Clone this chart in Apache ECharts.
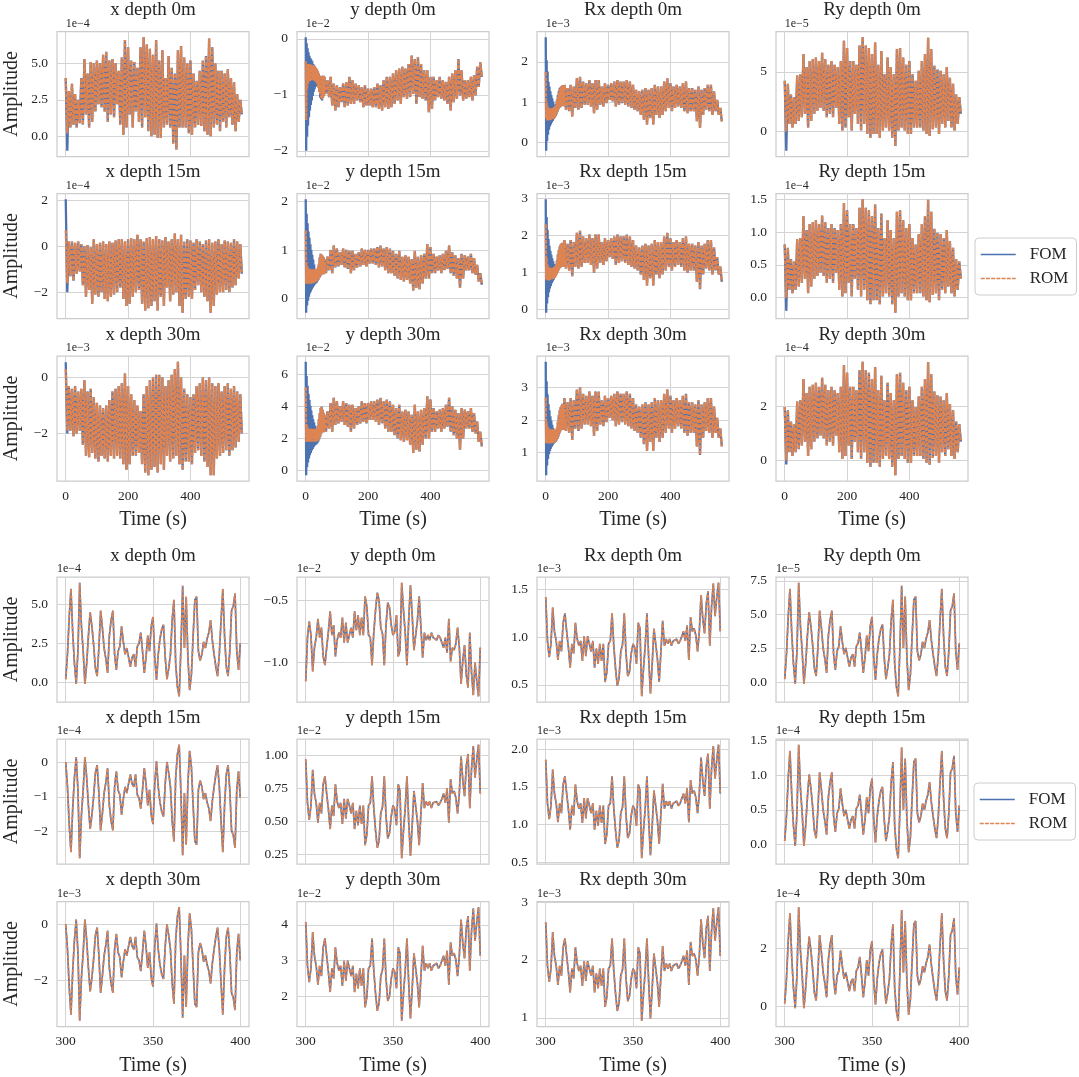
<!DOCTYPE html>
<html><head><meta charset="utf-8">
<script src="https://cdn.jsdelivr.net/npm/echarts@6.0.0/dist/echarts.min.js"></script>
<style>html,body{margin:0;padding:0;background:#fff}#c{width:1079px;height:1077px}</style>
</head><body><div id="c"></div>
<script>
// ---------- time ticks ----------
const topTimeLabels = ['0','200','400'];
const bottomTimeLabels = ['300','350','400'];
const bottomTimeStart = 300, bottomTimeStep = 1;

// ---------- TOP BLOCK (0-560 s): envelopes every 10 s (upper / lower) ----------
const tX0Up = [4.0,3.1,3.6,2.9,2.5,4.0,5.3,4.3,5.1,5.0, 5.2,5.0,5.6,5.8,5.2,5.3,5.0,4.5,5.4,6.6, 6.1,5.2,5.1,4.7,6.1,6.8,6.3,6.0,5.6,6.6, 5.2,5.9,4.0,5.5,4.7,4.3,5.9,6.2,5.4,5.0, 5.2,4.3,3.8,4.5,5.2,5.5,6.7,6.1,5.0,4.5, 4.5,4.3,4.6,4.0,3.7,2.9,2.5];
const tX0Lo = [0.2,0.6,0.8,0.6,0.9,0.8,1.5,0.6,1.0,1.7, 2.2,2.0,1.7,1.0,1.5,1.3,2.2,0.8,0.1,0.6, 1.5,0.6,1.7,1.0,0.6,1.3,0.35,0.0,0.1,-0.1, -0.1,0.6,0.8,0.6,-0.5,-0.9,0.6,0.6,0.6,0.2, 0.1,0.6,0.8,0.7,0.35,0.1,0.0,0.6,0.8,0.35, 1.0,0.6,1.3,0.8,0.35,1.0,1.5];
const tX0FomStart = [4.0,-1.0];

const tX15Up = [0.7,0.2,0.2,0.15,0.2,0.1,0.0,0.05,-0.05,0.3, 0.1,0.15,0.2,0.1,0.2,0.15,0.25,0.3,0.3,0.2, 0.3,0.35,0.3,0.5,0.3,0.2,0.35,0.4,0.3,0.45, 0.3,0.25,0.4,0.2,0.3,0.55,0.3,0.5,0.2,0.3, 0.25,0.15,0.3,0.2,0.1,0.25,0.3,0.15,0.2,0.3, 0.1,0.25,0.2,0.15,0.3,0.2,0.1];
const tX15Lo = [-1.6,-1.3,-1.5,-1.2,-1.1,-1.7,-2.2,-1.9,-2.5,-2.1, -2.2,-2.0,-2.3,-2.4,-2.2,-2.1,-2.0,-1.8,-2.3,-2.6, -2.5,-2.2,-2.0,-1.9,-2.5,-2.8,-2.7,-2.6,-2.4,-2.8, -2.2,-2.6,-1.8,-2.4,-2.1,-2.0,-2.6,-2.9,-2.3,-2.2, -2.3,-1.9,-1.7,-2.0,-2.2,-2.4,-2.9,-2.6,-2.1,-2.0, -2.0,-1.9,-2.0,-1.8,-1.7,-1.4,-1.2];
const tX15FomStart = [2.05,-2.0];

const tX30Up = [0.3,-0.3,-0.4,-0.3,-0.5,-0.4,-0.1,-0.5,-0.4,-0.7, -0.9,-1.0,-1.1,-1.0,-0.8,-0.5,-0.4,-0.3,-0.2,0.15, -0.3,-0.6,-0.8,-1.0,-1.2,-0.6,-0.3,-0.1,0.0,0.1, 0.1,0.0,-0.3,-0.1,0.1,0.3,0.57,0.0,-0.4,-0.6, -0.7,-0.6,-0.3,-0.2,0.0,-0.1,0.0,-0.2,-0.3,-0.2, -0.5,-0.3,-0.2,-0.4,-0.3,-0.5,-0.6];
const tX30Lo = [-1.9,-1.9,-2.1,-2.0,-1.9,-2.4,-2.8,-2.85,-2.7,-2.9, -3.0,-2.8,-2.9,-3.0,-2.8,-2.9,-2.8,-2.9,-3.1,-3.3, -3.1,-2.8,-2.8,-2.7,-3.1,-3.4,-3.5,-3.3,-3.2,-3.4, -3.1,-3.3,-2.8,-3.0,-2.9,-2.8,-3.1,-3.3,-3.0,-3.0, -3.1,-2.7,-2.6,-2.8,-3.0,-3.2,-3.5,-3.5,-2.9,-2.8, -2.7,-2.6,-2.8,-2.6,-2.5,-2.3,-2.0];
const tX30FomStart = [0.55,-2.0];

const tRy0Up = [4.25,4.0,3.1,2.9,4.7,4.8,6.5,5.4,5.9,6.05, 6.2,5.9,6.6,6.05,5.6,5.9,5.6,5.4,5.9,7.6, 7.0,5.9,5.9,5.6,7.2,7.9,7.2,7.0,6.5,7.45, 5.6,6.75,4.8,6.2,5.4,4.8,6.9,7.0,6.2,5.6, 5.9,4.8,4.25,5.1,5.9,6.5,7.85,6.9,5.5,5.2, 5.1,4.8,5.4,4.5,4.0,3.1,2.9];
const tRy0Lo = [0.0,0.65,0.35,0.65,0.9,1.2,1.5,0.35,0.9,1.5, 1.75,2.0,1.75,1.2,1.5,1.2,2.0,0.65,0.1,0.35, 1.2,0.1,1.5,0.65,0.1,0.65,-0.2,-0.5,-0.2,-0.2, -0.5,0.1,0.35,0.1,-0.5,-1.2,0.1,0.35,0.1,-0.2, -0.2,0.35,0.35,0.35,0.1,-0.2,-0.35,0.2,0.35,-0.2, 0.65,0.35,0.9,0.35,0.1,0.65,1.5];
const tRy0FomStart = [4.25,-1.6];

const tRy15Up = [0.81,0.76,0.59,0.55,0.89,0.91,1.24,1.03,1.12,1.15, 1.18,1.12,1.25,1.15,1.06,1.12,1.06,1.03,1.12,1.44, 1.33,1.12,1.12,1.06,1.37,1.5,1.37,1.33,1.24,1.42, 1.06,1.28,0.91,1.18,1.03,0.91,1.31,1.33,1.18,1.06, 1.12,0.91,0.81,0.97,1.12,1.24,1.49,1.31,1.05,0.99, 0.97,0.91,1.03,0.86,0.76,0.59,0.55];
const tRy15Lo = [0.0,0.12,0.07,0.12,0.17,0.23,0.29,0.07,0.17,0.29, 0.33,0.38,0.33,0.23,0.29,0.23,0.38,0.12,0.02,0.07, 0.23,0.02,0.29,0.12,0.02,0.12,-0.04,-0.1,-0.04,-0.04, -0.1,0.02,0.07,0.02,-0.1,-0.23,0.02,0.07,0.02,-0.04, -0.04,0.07,0.07,0.07,0.02,-0.04,-0.07,0.04,0.07,-0.04, 0.12,0.07,0.17,0.07,0.02,0.12,0.29];
const tRy15FomStart = [0.81,-0.2];

const tRy30Up = [1.96,1.84,1.43,1.33,2.16,2.21,2.99,2.48,2.71,2.78, 2.85,2.71,3.04,2.78,2.58,2.71,2.58,2.48,2.71,3.5, 3.22,2.71,2.71,2.58,3.31,3.63,3.31,3.22,2.99,3.43, 2.58,3.11,2.21,2.85,2.48,2.21,3.17,3.22,2.85,2.58, 2.71,2.21,1.96,2.35,2.71,2.99,3.61,3.17,2.53,2.39, 2.35,2.21,2.48,2.07,1.84,1.43,1.33];
const tRy30Lo = [0.0,0.3,0.16,0.3,0.41,0.55,0.69,0.16,0.41,0.69, 0.81,0.92,0.81,0.55,0.69,0.55,0.92,0.3,0.05,0.16, 0.55,0.05,0.69,0.3,0.05,0.3,-0.09,-0.23,-0.09,-0.09, -0.23,0.05,0.16,0.05,-0.23,-0.55,0.05,0.16,0.05,-0.09, -0.09,0.16,0.16,0.16,0.05,-0.09,-0.16,0.09,0.16,-0.09, 0.3,0.16,0.41,0.16,0.05,0.3,0.69];
const tRy30FomStart = [1.96,-0.15];

// y / Rx panels: transient heads (0-57 s every 3 s) + main envelopes (60-560 s every 10 s)
const tY0FomHeadUp = [0.03,-0.08,-0.17,-0.24,-0.30,-0.34,-0.37,-0.40,-0.45,-0.47,-0.50,-0.52,-0.55,-0.58,-0.62,-0.66,-0.68,-0.68,-0.66,-0.66];
const tY0FomHeadLo = [-2.00,-1.75,-1.55,-1.40,-1.28,-1.18,-1.10,-1.02,-0.95,-0.90,-0.86,-0.84,-0.80,-0.82,-0.95,-1.05,-1.08,-1.10,-1.05,-1.02];
const tY0RomHeadUp = [-0.40,-0.45,-0.45,-0.45,-0.45,-0.46,-0.46,-0.47,-0.47,-0.48,-0.50,-0.52,-0.55,-0.58,-0.62,-0.66,-0.68,-0.68,-0.66,-0.66];
const tY0RomHeadLo = [-1.45,-0.90,-0.80,-0.76,-0.75,-0.74,-0.74,-0.74,-0.74,-0.75,-0.76,-0.78,-0.82,-0.88,-0.95,-1.00,-1.05,-1.08,-1.05,-1.02];
const tY0Up = [-0.68,-0.74,-0.68,-0.8,-0.83,-0.86,-0.8,-0.77,-0.68,-0.74, -0.8,-0.83,-0.86,-0.83,-0.89,-0.89,-0.86,-0.8,-0.83,-0.74, -0.68,-0.68,-0.62,-0.56,-0.53,-0.5,-0.53,-0.45,-0.3,-0.36, -0.33,-0.45,-0.56,-0.56,-0.68,-0.68,-0.74,-0.68,-0.74,-0.77, -0.68,-0.62,-0.56,-0.36,-0.56,-0.74,-0.74,-0.68,-0.65,-0.5, -0.42];
const tY0Lo = [-0.98,-1.04,-1.19,-1.28,-1.22,-1.13,-1.22,-1.19,-1.16,-1.16, -1.1,-1.13,-1.22,-1.19,-1.19,-1.22,-1.22,-1.25,-1.28,-1.22, -1.25,-1.22,-1.16,-1.1,-1.16,-1.04,-1.07,-1.04,-0.98,-1.16, -1.04,-1.07,-1.1,-1.31,-1.25,-1.1,-1.04,-1.07,-1.1,-1.16, -1.28,-1.13,-1.07,-1.01,-1.1,-1.07,-1.04,-1.1,-1.01,-0.86, -0.68];

const tY15FomHeadUp = [2.05,1.75,1.55,1.38,1.25,1.12,1.0,0.9,0.8,0.7,0.6,0.52,0.48,0.55,0.7,0.85,0.92,0.9,0.88,0.85];
const tY15FomHeadLo = [-0.3,-0.15,-0.05,0.03,0.1,0.14,0.18,0.22,0.25,0.28,0.3,0.32,0.35,0.38,0.42,0.45,0.48,0.5,0.5,0.5];
const tY15RomHeadUp = [1.4,0.75,0.65,0.62,0.6,0.6,0.6,0.6,0.6,0.6,0.6,0.6,0.62,0.66,0.72,0.85,0.92,0.9,0.88,0.85];
const tY15RomHeadLo = [0.3,0.3,0.3,0.3,0.3,0.3,0.3,0.31,0.32,0.33,0.34,0.35,0.37,0.4,0.42,0.45,0.48,0.5,0.5,0.5];
const tY15Up = [0.81,0.86,1.0,1.09,1.03,0.95,1.03,1.0,0.98,0.98, 0.92,0.95,1.03,1.0,1.0,1.03,1.03,1.06,1.09,1.03, 1.06,1.03,0.98,0.92,0.98,0.86,0.89,0.86,0.81,0.98, 0.86,0.89,0.92,1.12,1.06,0.92,0.86,0.89,0.92,0.98, 1.09,0.95,0.89,0.83,0.92,0.89,0.86,0.92,0.83,0.69, 0.52];
const tY15Lo = [0.52,0.58,0.52,0.64,0.66,0.69,0.64,0.61,0.52,0.58, 0.64,0.66,0.69,0.66,0.72,0.72,0.69,0.64,0.66,0.58, 0.52,0.52,0.47,0.41,0.38,0.35,0.38,0.31,0.16,0.22, 0.19,0.31,0.41,0.41,0.52,0.52,0.58,0.52,0.58,0.61, 0.52,0.47,0.41,0.22,0.41,0.58,0.58,0.52,0.49,0.35, 0.28];

const tY30FomHeadUp = [6.8,5.9,5.3,4.8,4.4,4.05,3.75,3.45,3.2,3.0,2.8,2.65,2.6,2.8,3.2,3.6,3.9,4.0,3.8,3.6];
const tY30FomHeadLo = [-0.3,0.2,0.5,0.75,0.95,1.1,1.25,1.35,1.45,1.55,1.6,1.65,1.7,1.8,1.95,2.1,2.3,2.4,2.4,2.4];
const tY30RomHeadUp = [5.2,2.9,2.7,2.6,2.6,2.6,2.6,2.6,2.6,2.6,2.6,2.6,2.65,2.8,3.2,3.6,3.9,4.0,3.8,3.6];
const tY30RomHeadLo = [1.8,1.8,1.8,1.8,1.8,1.8,1.8,1.8,1.8,1.8,1.8,1.8,1.85,1.9,2.0,2.1,2.3,2.4,2.4,2.4];
const tY30Up = [3.48,3.69,4.22,4.54,4.32,4.01,4.32,4.22,4.11,4.11, 3.9,4.01,4.32,4.22,4.22,4.32,4.32,4.43,4.54,4.32, 4.43,4.32,4.11,3.9,4.11,3.69,3.8,3.69,3.48,4.11, 3.69,3.8,3.9,4.64,4.43,3.9,3.69,3.8,3.9,4.11, 4.54,4.01,3.8,3.59,3.9,3.8,3.69,3.9,3.59,3.06, 2.42];
const tY30Lo = [2.42,2.63,2.42,2.85,2.95,3.06,2.85,2.74,2.42,2.63, 2.85,2.95,3.06,2.95,3.16,3.16,3.06,2.85,2.95,2.63, 2.42,2.42,2.21,2.0,1.9,1.79,1.9,1.61,1.09,1.3, 1.19,1.61,2.0,2.0,2.42,2.42,2.63,2.42,2.63,2.74, 2.42,2.21,2.0,1.3,2.0,2.63,2.63,2.42,2.32,1.79, 1.51];

const tRx0FomHeadUp = [2.61,2.04,1.76,1.51,1.39,1.27,1.18,1.1,1.02,0.94,0.92,0.96,1.06,1.18,1.27,1.35,1.38,1.4,1.42,1.4];
const tRx0FomHeadLo = [-0.2,0.04,0.2,0.32,0.4,0.45,0.5,0.54,0.58,0.62,0.66,0.7,0.76,0.82,0.86,0.88,0.9,0.93,0.92,0.9];
const tRx0RomHeadUp = [1.75,1.0,0.9,0.86,0.85,0.85,0.85,0.85,0.86,0.88,0.9,0.95,1.05,1.15,1.25,1.33,1.38,1.4,1.42,1.4];
const tRx0RomHeadLo = [0.6,0.55,0.55,0.56,0.56,0.57,0.58,0.59,0.6,0.62,0.65,0.7,0.76,0.82,0.86,0.88,0.9,0.93,0.92,0.9];
const tRx0Up = [1.43,1.35,1.43,1.39,1.59,1.63,1.51,1.47,1.55,1.47, 1.55,1.55,1.39,1.47,1.43,1.47,1.51,1.55,1.51,1.51, 1.55,1.51,1.43,1.31,1.27,1.31,1.35,1.31,1.35,1.43, 1.39,1.39,1.51,1.59,1.47,1.39,1.43,1.39,1.47,1.51, 1.35,1.35,1.31,1.39,1.31,1.35,1.43,1.43,1.27,1.06, 0.86];
const tRx0Lo = [0.82,0.78,0.65,0.86,0.82,0.86,0.94,0.94,0.9,0.73, 0.82,0.94,0.9,0.98,1.06,1.02,0.9,0.94,0.98,0.94, 0.9,0.86,0.82,0.78,0.69,0.57,0.45,0.61,0.45,0.69, 0.61,0.69,0.78,0.86,0.78,0.86,0.9,0.86,0.78,0.73, 0.78,0.78,0.53,0.37,0.69,0.82,0.78,0.69,0.78,0.69, 0.53];

const tRx15FomHeadUp = [2.98,2.5,2.15,1.9,1.72,1.58,1.47,1.38,1.3,1.22,1.18,1.2,1.32,1.48,1.6,1.7,1.75,1.78,1.8,1.78];
const tRx15FomHeadLo = [-0.1,0.15,0.32,0.46,0.56,0.63,0.7,0.75,0.8,0.85,0.9,0.95,1.0,1.05,1.1,1.12,1.15,1.17,1.16,1.14];
const tRx15RomHeadUp = [2.3,1.4,1.2,1.15,1.12,1.12,1.12,1.12,1.13,1.14,1.16,1.2,1.32,1.48,1.6,1.7,1.75,1.78,1.8,1.78];
const tRx15RomHeadLo = [0.8,0.78,0.78,0.78,0.79,0.8,0.81,0.82,0.83,0.85,0.88,0.92,0.98,1.04,1.1,1.12,1.15,1.17,1.16,1.14];
const tRx15Up = [1.87,1.77,1.87,1.82,2.07,2.12,1.97,1.92,2.02,1.92, 2.02,2.02,1.82,1.92,1.87,1.92,1.97,2.02,1.97,1.97, 2.02,1.97,1.87,1.72,1.67,1.72,1.77,1.72,1.77,1.87, 1.82,1.82,1.97,2.07,1.92,1.82,1.87,1.82,1.92,1.97, 1.77,1.77,1.72,1.82,1.72,1.77,1.87,1.87,1.67,1.41, 1.15];
const tRx15Lo = [1.10,1.05,0.89,1.15,1.10,1.15,1.25,1.25,1.20,0.99, 1.10,1.25,1.20,1.30,1.41,1.36,1.20,1.25,1.30,1.25, 1.20,1.15,1.10,1.05,0.94,0.79,0.64,0.84,0.64,0.94, 0.84,0.94,1.05,1.15,1.05,1.15,1.20,1.15,1.05,0.99, 1.05,1.05,0.74,0.54,0.94,1.10,1.05,0.94,1.05,0.94, 0.74];

const tRx30FomHeadUp = [3.8,3.2,2.8,2.5,2.3,2.12,1.98,1.86,1.76,1.68,1.62,1.62,1.75,1.95,2.15,2.3,2.4,2.45,2.5,2.45];
const tRx30FomHeadLo = [0.3,0.6,0.8,0.95,1.05,1.12,1.18,1.23,1.27,1.3,1.33,1.37,1.42,1.5,1.58,1.65,1.7,1.72,1.72,1.7];
const tRx30RomHeadUp = [2.7,1.95,1.8,1.75,1.72,1.72,1.72,1.72,1.72,1.72,1.72,1.72,1.78,1.95,2.15,2.3,2.4,2.45,2.5,2.45];
const tRx30RomHeadLo = [1.3,1.28,1.28,1.28,1.28,1.28,1.28,1.29,1.3,1.31,1.33,1.37,1.42,1.5,1.58,1.65,1.7,1.72,1.72,1.7];
const tRx30Up = [2.68,2.55,2.68,2.61,2.94,3.01,2.81,2.75,2.88,2.75, 2.88,2.88,2.61,2.75,2.68,2.75,2.81,2.88,2.81,2.81, 2.88,2.81,2.68,2.48,2.42,2.48,2.55,2.48,2.55,2.68, 2.61,2.61,2.81,2.94,2.75,2.61,2.68,2.61,2.75,2.81, 2.55,2.55,2.48,2.61,2.48,2.55,2.68,2.68,2.42,2.07, 1.74];
const tRx30Lo = [1.67,1.61,1.39,1.74,1.67,1.74,1.87,1.87,1.81,1.52, 1.67,1.87,1.81,1.94,2.07,2.0,1.81,1.87,1.94,1.87, 1.81,1.74,1.67,1.61,1.46,1.26,1.06,1.33,1.06,1.46, 1.33,1.46,1.61,1.74,1.61,1.74,1.81,1.74,1.61,1.52, 1.61,1.61,1.19,0.93,1.46,1.67,1.61,1.46,1.61,1.46, 1.19];

// ---------- BOTTOM BLOCK (300-400 s, every 1 s) ----------
const bX0 = [0.2,1.8,4.2,6.0,3.2,1.2,-0.1,2.0,6.4,3.6, 2.0,-0.1,1.2,3.0,4.5,3.6,2.4,0.9,0.4,2.2, 4.6,3.5,2.2,1.5,0.6,3.0,4.0,4.6,1.8,0.8, 2.0,2.3,3.6,2.6,1.8,2.2,1.6,1.0,1.6,1.8, 1.0,2.3,2.5,3.2,2.0,0.6,1.6,3.0,2.0,3.6, 4.2,1.6,0.15,1.8,2.8,3.4,3.7,1.6,0.2,0.9, 1.8,4.0,5.3,1.2,-0.3,-0.9,2.2,6.2,2.2,5.5, 1.6,-0.5,0.5,3.0,5.3,5.5,2.0,1.4,1.8,2.6, 2.2,2.8,3.2,4.0,2.7,1.8,1.0,0.4,1.8,4.0, 6.0,3.0,1.0,0.4,2.0,4.6,4.9,5.7,2.0,0.8, 2.5];
const bX15 = [0.01,-0.71,-1.79,-2.6,-1.34,-0.44,0.15,-0.8,-2.78,-1.52, -0.8,0.15,-0.44,-1.25,-1.93,-1.52,-0.98,-0.31,-0.08,-0.89, -1.97,-1.48,-0.89,-0.58,-0.17,-1.25,-1.7,-1.97,-0.71,-0.26, -0.8,-0.94,-1.52,-1.07,-0.71,-0.89,-0.62,-0.35,-0.62,-0.71, -0.35,-0.94,-1.03,-1.34,-0.8,-0.17,-0.62,-1.25,-0.8,-1.52, -1.79,-0.62,0.03,-0.71,-1.16,-1.43,-1.57,-0.62,0.01,-0.31, -0.71,-1.7,-2.29,-0.44,0.24,0.51,-0.89,-2.69,-0.89,-2.38, -0.62,0.33,-0.13,-1.25,-2.29,-2.38,-0.8,-0.53,-0.71,-1.07, -0.89,-1.16,-1.34,-1.7,-1.12,-0.71,-0.35,-0.08,-0.71,-1.7, -2.6,-1.25,-0.35,-0.08,-0.8,-1.97,-2.11,-2.47,-0.8,-0.26, -1.03];
const bX30 = [-0.01,-0.89,-2.21,-3.2,-1.66,-0.56,0.16,-1.0,-3.42,-1.88, -1.0,0.16,-0.56,-1.55,-2.38,-1.88,-1.22,-0.4,-0.12,-1.11, -2.43,-1.83,-1.11,-0.73,-0.23,-1.55,-2.1,-2.43,-0.89,-0.34, -1.0,-1.17,-1.88,-1.33,-0.89,-1.11,-0.78,-0.45,-0.78,-0.89, -0.45,-1.17,-1.28,-1.66,-1.0,-0.23,-0.78,-1.55,-1.0,-1.88, -2.21,-0.78,0.02,-0.89,-1.44,-1.77,-1.94,-0.78,-0.01,-0.4, -0.89,-2.1,-2.82,-0.56,0.27,0.6,-1.11,-3.31,-1.11,-2.93, -0.78,0.38,-0.18,-1.55,-2.82,-2.93,-1.0,-0.67,-0.89,-1.33, -1.11,-1.44,-1.66,-2.1,-1.39,-0.89,-0.45,-0.12,-0.89,-2.1, -3.2,-1.55,-0.45,-0.12,-1.0,-2.43,-2.6,-3.04,-1.0,-0.34, -1.28];
const bRy0 = [0.23,2.07,4.83,6.9,3.68,1.38,-0.12,2.3,7.36,4.14, 2.3,-0.12,1.38,3.45,5.18,4.14,2.76,1.04,0.46,2.53, 5.29,4.03,2.53,1.73,0.69,3.45,4.6,5.29,2.07,0.92, 2.3,2.65,4.14,2.99,2.07,2.53,1.84,1.15,1.84,2.07, 1.15,2.65,2.88,3.68,2.3,0.69,1.84,3.45,2.3,4.14, 4.83,1.84,0.17,2.07,3.22,3.91,4.26,1.84,0.23,1.04, 2.07,4.6,6.1,1.38,-0.35,-1.04,2.53,7.13,2.53,6.33, 1.84,-0.58,0.58,3.45,6.1,6.33,2.3,1.61,2.07,2.99, 2.53,3.22,3.68,4.6,3.11,2.07,1.15,0.46,2.07,4.6, 6.9,3.45,1.15,0.46,2.3,5.29,5.64,6.56,2.3,0.92, 2.88];
const bRy15 = [0.05,0.41,0.95,1.35,0.72,0.27,-0.02,0.45,1.44,0.81, 0.45,-0.02,0.27,0.68,1.01,0.81,0.54,0.2,0.09,0.5, 1.04,0.79,0.5,0.34,0.14,0.68,0.9,1.04,0.41,0.18, 0.45,0.52,0.81,0.59,0.41,0.5,0.36,0.23,0.36,0.41, 0.23,0.52,0.56,0.72,0.45,0.14,0.36,0.68,0.45,0.81, 0.95,0.36,0.03,0.41,0.63,0.77,0.83,0.36,0.05,0.2, 0.41,0.9,1.19,0.27,-0.07,-0.2,0.5,1.4,0.5,1.24, 0.36,-0.11,0.11,0.68,1.19,1.24,0.45,0.32,0.41,0.59, 0.5,0.63,0.72,0.9,0.61,0.41,0.23,0.09,0.41,0.9, 1.35,0.68,0.23,0.09,0.45,1.04,1.1,1.28,0.45,0.18, 0.56];
const bRy30 = [0.11,0.95,2.23,3.18,1.7,0.64,-0.05,1.06,3.39,1.91, 1.06,-0.05,0.64,1.59,2.39,1.91,1.27,0.48,0.21,1.17, 2.44,1.86,1.17,0.8,0.32,1.59,2.12,2.44,0.95,0.42, 1.06,1.22,1.91,1.38,0.95,1.17,0.85,0.53,0.85,0.95, 0.53,1.22,1.33,1.7,1.06,0.32,0.85,1.59,1.06,1.91, 2.23,0.85,0.08,0.95,1.48,1.8,1.96,0.85,0.11,0.48, 0.95,2.12,2.81,0.64,-0.16,-0.48,1.17,3.29,1.17,2.92, 0.85,-0.27,0.27,1.59,2.81,2.92,1.06,0.74,0.95,1.38, 1.17,1.48,1.7,2.12,1.43,0.95,0.53,0.21,0.95,2.12, 3.18,1.59,0.53,0.21,1.06,2.44,2.6,3.02,1.06,0.42, 1.33];
const bY0 = [-1.15,-0.80,-0.67,-0.78,-1.07,-0.88,-0.80,-0.65,-0.80,-0.72, -0.95,-1.02,-0.88,-0.75,-0.59,-0.78,-0.70,-0.95,-0.82,-0.76, -0.80,-0.64,-0.84,-0.68,-0.84,-0.78,-0.72,-0.80,-0.59,-0.74, -0.62,-0.78,-0.64,-0.78,-0.47,-0.55,-0.78,-0.80,-1.02,-0.76, -0.58,-0.44,-0.50,-0.72,-0.77,-1.02,-0.70,-0.52,-0.56,-0.70, -0.78,-0.75,-0.62,-0.95,-0.90,-0.36,-0.58,-0.76,-1.02,-0.66, -0.38,-0.62,-0.90,-0.90,-0.66,-0.47,-0.72,-0.96,-0.76,-0.82, -0.78,-0.82,-0.76,-0.80,-0.80,-0.82,-0.78,-0.80,-0.84,-0.88, -0.80,-0.92,-0.65,-0.99,-0.88,-0.90,-0.85,-0.72,-0.88,-1.17, -0.98,-0.86,-1.10,-1.20,-0.76,-1.08,-1.26,-1.00,-1.15,-1.27, -0.88];
const bY15 = [0.97,0.64,0.51,0.62,0.89,0.71,0.64,0.49,0.64,0.56, 0.78,0.84,0.71,0.59,0.44,0.62,0.54,0.78,0.65,0.6, 0.64,0.48,0.67,0.52,0.67,0.62,0.56,0.64,0.44,0.58, 0.47,0.62,0.48,0.62,0.32,0.4,0.62,0.64,0.84,0.6, 0.43,0.3,0.35,0.56,0.61,0.84,0.54,0.37,0.41,0.54, 0.62,0.59,0.47,0.78,0.73,0.22,0.43,0.6,0.84,0.5, 0.24,0.47,0.73,0.73,0.5,0.32,0.56,0.79,0.6,0.65, 0.62,0.65,0.6,0.64,0.64,0.65,0.62,0.64,0.67,0.71, 0.64,0.75,0.49,0.82,0.71,0.73,0.68,0.56,0.71,0.99, 0.81,0.69,0.92,1.01,0.6,0.9,1.07,0.83,0.97,1.08, 0.71];
const bY30 = [4.08,2.85,2.39,2.78,3.8,3.13,2.85,2.32,2.85,2.56, 3.37,3.62,3.13,2.67,2.11,2.78,2.49,3.37,2.92,2.71, 2.85,2.28,2.99,2.42,2.99,2.78,2.56,2.85,2.11,2.63, 2.21,2.78,2.28,2.78,1.68,1.97,2.78,2.85,3.62,2.71, 2.07,1.58,1.79,2.56,2.74,3.62,2.49,1.86,2.0,2.49, 2.78,2.67,2.21,3.37,3.2,1.3,2.07,2.71,3.62,2.35, 1.37,2.21,3.2,3.2,2.35,1.68,2.56,3.41,2.71,2.92, 2.78,2.92,2.71,2.85,2.85,2.92,2.78,2.85,2.99,3.13, 2.85,3.27,2.32,3.51,3.13,3.2,3.02,2.56,3.13,4.15, 3.48,3.06,3.9,4.25,2.71,3.83,4.47,3.55,4.08,4.5, 3.13];
const bRx0 = [1.42,0.96,0.79,0.93,1.31,1.06,0.96,0.76,0.96,0.85, 1.15,1.25,1.06,0.89,0.68,0.93,0.83,1.15,0.98,0.91, 0.96,0.75,1.01,0.8,1.01,0.93,0.85,0.96,0.68,0.88, 0.72,0.93,0.75,0.93,0.53,0.63,0.93,0.96,1.25,0.91, 0.67,0.49,0.57,0.85,0.92,1.25,0.83,0.59,0.64,0.83, 0.93,0.89,0.72,1.15,1.09,0.38,0.67,0.91,1.25,0.77, 0.41,0.72,1.09,1.09,0.77,0.53,0.85,1.17,0.91,0.98, 0.93,0.98,0.91,0.96,0.96,0.98,0.93,0.96,1.01,1.06, 0.96,1.12,0.76,1.21,1.06,1.09,1.02,0.85,1.06,1.44, 1.19,1.04,1.35,1.48,0.91,1.32,1.56,1.22,1.42,1.57, 1.06];
const bRx15 = [1.86,1.28,1.07,1.25,1.73,1.41,1.28,1.03,1.28,1.15, 1.53,1.64,1.41,1.2,0.93,1.25,1.12,1.53,1.31,1.21, 1.28,1.02,1.35,1.08,1.35,1.25,1.15,1.28,0.93,1.18, 0.98,1.25,1.02,1.25,0.74,0.87,1.25,1.28,1.64,1.21, 0.92,0.69,0.79,1.15,1.23,1.64,1.12,0.82,0.88,1.12, 1.25,1.2,0.98,1.53,1.45,0.55,0.92,1.21,1.64,1.05, 0.59,0.98,1.45,1.45,1.05,0.74,1.15,1.54,1.21,1.31, 1.25,1.31,1.21,1.28,1.28,1.31,1.25,1.28,1.35,1.41, 1.28,1.48,1.03,1.59,1.41,1.45,1.36,1.15,1.41,1.89, 1.58,1.38,1.78,1.94,1.21,1.74,2.04,1.61,1.86,2.06, 1.41];
const bRx30 = [2.65,1.9,1.62,1.85,2.48,2.07,1.9,1.57,1.9,1.73, 2.22,2.37,2.07,1.79,1.44,1.85,1.68,2.22,1.94,1.81, 1.9,1.55,1.98,1.64,1.98,1.85,1.73,1.9,1.44,1.77, 1.51,1.85,1.55,1.85,1.19,1.36,1.85,1.9,2.37,1.81, 1.42,1.12,1.25,1.73,1.83,2.37,1.68,1.29,1.38,1.68, 1.85,1.79,1.51,2.22,2.11,0.95,1.42,1.81,2.37,1.6, 0.99,1.51,2.11,2.11,1.6,1.19,1.73,2.24,1.81,1.94, 1.85,1.94,1.81,1.9,1.9,1.94,1.85,1.9,1.98,2.07, 1.9,2.16,1.57,2.31,2.07,2.11,2.01,1.73,2.07,2.7, 2.29,2.03,2.55,2.76,1.81,2.5,2.89,2.33,2.65,2.91, 2.07];

// ---------- y tick labels ----------
const lab_tX0=['0.0','2.5','5.0'], lab_tY0=['\u22122','\u22121','0'], lab_tRx0=['0','1','2'], lab_tRy0=['0','5'];
const lab_tX15=['\u22122','0','2'], lab_tY15=['0','1','2'], lab_tRx15=['0','1','2','3'], lab_tRy15=['0.0','0.5','1.0','1.5'];
const lab_tX30=['\u22122','0'], lab_tY30=['0','2','4','6'], lab_tRx30=['1','2','3'], lab_tRy30=['0','2'];
const lab_bX0=['0.0','2.5','5.0'], lab_bY0=['\u22121.0','\u22120.5'], lab_bRx0=['0.5','1.0','1.5'], lab_bRy0=['0.0','2.5','5.0','7.5'];
const lab_bX15=['\u22122','\u22121','0'], lab_bY15=['0.25','0.50','0.75','1.00'], lab_bRx15=['0.5','1.0','1.5','2.0'], lab_bRy15=['0.0','0.5','1.0','1.5'];
const lab_bX30=['\u22122','0'], lab_bY30=['2','3','4'], lab_bRx30=['1','2','3'], lab_bRy30=['0','2'];

// ---------- builders ----------
function zig(t0, dt, up, lo) {
  const out = [];
  for (let i = 0; i < up.length; i++) { out.push([t0 + i*dt, up[i]]); out.push([t0 + i*dt + dt/2, lo[i]]); }
  return out;
}
function simpleTop(up, lo, fs) {
  const fu = up.slice(), fl = lo.slice(); fu[0] = fs[0]; fl[0] = fs[1];
  return { fom: zig(0, 10, fu, fl), rom: zig(0, 10, up, lo) };
}
function headTop(fu, fl, ru, rl, mu, ml) {
  const main = zig(60, 10, mu, ml);
  return { fom: zig(0, 3, fu, fl).concat(main), rom: zig(0, 3, ru, rl).concat(main) };
}
function bottomS(v) { const d = v.map((y, i) => [bottomTimeStart + i*bottomTimeStep, y]); return { fom: d, rom: d }; }

const E2='1e\u22122', E3='1e\u22123', E4='1e\u22124', E5='1e\u22125';
const panels = [
  ['x depth 0m', E4, lab_tX0, simpleTop(tX0Up,tX0Lo,tX0FomStart)],
  ['y depth 0m', E2, lab_tY0, headTop(tY0FomHeadUp,tY0FomHeadLo,tY0RomHeadUp,tY0RomHeadLo,tY0Up,tY0Lo)],
  ['Rx depth 0m', E3, lab_tRx0, headTop(tRx0FomHeadUp,tRx0FomHeadLo,tRx0RomHeadUp,tRx0RomHeadLo,tRx0Up,tRx0Lo)],
  ['Ry depth 0m', E5, lab_tRy0, simpleTop(tRy0Up,tRy0Lo,tRy0FomStart)],
  ['x depth 15m', E4, lab_tX15, simpleTop(tX15Up,tX15Lo,tX15FomStart)],
  ['y depth 15m', E2, lab_tY15, headTop(tY15FomHeadUp,tY15FomHeadLo,tY15RomHeadUp,tY15RomHeadLo,tY15Up,tY15Lo)],
  ['Rx depth 15m', E3, lab_tRx15, headTop(tRx15FomHeadUp,tRx15FomHeadLo,tRx15RomHeadUp,tRx15RomHeadLo,tRx15Up,tRx15Lo)],
  ['Ry depth 15m', E4, lab_tRy15, simpleTop(tRy15Up,tRy15Lo,tRy15FomStart)],
  ['x depth 30m', E3, lab_tX30, simpleTop(tX30Up,tX30Lo,tX30FomStart)],
  ['y depth 30m', E2, lab_tY30, headTop(tY30FomHeadUp,tY30FomHeadLo,tY30RomHeadUp,tY30RomHeadLo,tY30Up,tY30Lo)],
  ['Rx depth 30m', E3, lab_tRx30, headTop(tRx30FomHeadUp,tRx30FomHeadLo,tRx30RomHeadUp,tRx30RomHeadLo,tRx30Up,tRx30Lo)],
  ['Ry depth 30m', E4, lab_tRy30, simpleTop(tRy30Up,tRy30Lo,tRy30FomStart)],
  ['x depth 0m', E4, lab_bX0, bottomS(bX0)],
  ['y depth 0m', E2, lab_bY0, bottomS(bY0)],
  ['Rx depth 0m', E3, lab_bRx0, bottomS(bRx0)],
  ['Ry depth 0m', E5, lab_bRy0, bottomS(bRy0)],
  ['x depth 15m', E4, lab_bX15, bottomS(bX15)],
  ['y depth 15m', E2, lab_bY15, bottomS(bY15)],
  ['Rx depth 15m', E3, lab_bRx15, bottomS(bRx15)],
  ['Ry depth 15m', E4, lab_bRy15, bottomS(bRy15)],
  ['x depth 30m', E3, lab_bX30, bottomS(bX30)],
  ['y depth 30m', E2, lab_bY30, bottomS(bY30)],
  ['Rx depth 30m', E3, lab_bRx30, bottomS(bRx30)],
  ['Ry depth 30m', E4, lab_bRy30, bottomS(bRy30)]
];

// ---------- layout ----------
const ROW_TOP = [31.5, 193.5, 356, 577, 739, 901.5];
const COL_LEFT = [57, 297, 537, 776];
const PW = 192, PH = 125;
const FONT = '"Liberation Serif", "Times New Roman", serif';
const TXT = '#262626', GRIDC = '#d4d4d4', FRAME = '#cccccc';
const BLUE = '#4c72b0', ORANGE = '#dd8452';

const toNum = s => parseFloat(s.replace('\u2212', '-'));
const fmtFrom = labs => { const nums = labs.map(toNum); return v => { for (let k = 0; k < nums.length; k++) if (Math.abs(nums[k]-v) < 1e-9) return labs[k]; return ''; }; };

const grid = [], xAxis = [], yAxis = [], series = [], elements = [];
panels.forEach((p, i) => {
  const row = Math.floor(i / 4), col = i % 4;
  const left = COL_LEFT[col], top = ROW_TOP[row];
  const isTop = row < 3, isBottomRow = (row === 2 || row === 5);
  grid.push({ left: left, top: top, width: PW, height: PH, show: true, borderColor: FRAME, borderWidth: 1.25, backgroundColor: '#fff', containLabel: false, outerBoundsMode: 'none' });
  const xl = isTop ? topTimeLabels : bottomTimeLabels;
  const xv = xl.map(toNum);
  xAxis.push({
    gridIndex: i, type: 'value', min: isTop ? -28 : 295, max: isTop ? 588 : 405,
    axisLine: { show: false }, axisTick: { show: false, customValues: xv },
    axisLabel: { show: isBottomRow, customValues: xv, formatter: fmtFrom(xl), margin: 8, fontSize: 13.5, fontFamily: FONT, color: TXT },
    splitLine: { show: true, lineStyle: { color: GRIDC, width: 1 } },
    name: isBottomRow ? 'Time (s)' : '', nameLocation: 'middle', nameGap: 29,
    nameTextStyle: { fontSize: 20, fontFamily: FONT, color: TXT }
  });
  let mn = Infinity, mx = -Infinity;
  p[3].fom.concat(p[3].rom).forEach(d => { if (d[1] < mn) mn = d[1]; if (d[1] > mx) mx = d[1]; });
  const pad = (mx - mn) * 0.05;
  const yv = p[2].map(toNum);
  yAxis.push({
    gridIndex: i, type: 'value', min: mn - pad, max: mx + pad,
    axisLine: { show: false }, axisTick: { show: false, customValues: yv },
    axisLabel: { customValues: yv, formatter: fmtFrom(p[2]), margin: 9, fontSize: 13.5, fontFamily: FONT, color: TXT },
    splitLine: { show: true, lineStyle: { color: GRIDC, width: 1 } },
    name: p[1], nameLocation: 'end', nameGap: 2,
    nameTextStyle: { fontSize: 12, fontFamily: FONT, color: TXT, align: 'left', verticalAlign: 'bottom' }
  });
  const lw = isTop ? 2.3 : 1.7;
  const dash = isTop ? [4, 1.2] : [3.5, 1.6];
  series.push({ name: 'FOM', type: 'line', xAxisIndex: i, yAxisIndex: i, data: p[3].fom, showSymbol: false, symbol: 'none', animation: false,
    lineStyle: { color: BLUE, width: lw }, itemStyle: { color: BLUE }, z: 2 });
  series.push({ name: 'ROM', type: 'line', xAxisIndex: i, yAxisIndex: i, data: p[3].rom, showSymbol: false, symbol: 'none', animation: false,
    lineStyle: { color: ORANGE, width: lw, type: dash }, itemStyle: { color: ORANGE }, z: 3 });
  elements.push({ type: 'text', x: left + PW/2, y: top - 21,
    style: { text: p[0], fontSize: 19, fontFamily: FONT, fill: TXT, align: 'center', verticalAlign: 'middle', textAlign: 'center', textVerticalAlign: 'middle' } });
  if (col === 0) {
    elements.push({ type: 'text', x: 12, y: top + PH/2, rotation: Math.PI/2,
      style: { text: 'Amplitude', fontSize: 20, fontFamily: FONT, fill: TXT, align: 'center', verticalAlign: 'middle', textAlign: 'center', textVerticalAlign: 'middle' } });
  }
});

const legendBase = {
  data: ['FOM', 'ROM'], orient: 'vertical', itemWidth: 35, itemHeight: 12, itemGap: 7,
  padding: [8, 8, 8, 5], borderColor: FRAME, borderWidth: 1, borderRadius: 4, backgroundColor: '#fff',
  selectedMode: false,
  itemStyle: { opacity: 0, borderWidth: 0 },
  lineStyle: { width: 1.5, type: 'inherit' },
  textStyle: { fontSize: 17, fontFamily: FONT, color: TXT, padding: [0, 0, 0, 9] }
};
const chart = echarts.init(document.getElementById('c'), null, { renderer: 'canvas' });
chart.setOption({
  backgroundColor: '#fff', animation: false,
  textStyle: { fontFamily: FONT },
  grid: grid, xAxis: xAxis, yAxis: yAxis, series: series,
  legend: [Object.assign({}, legendBase, { left: 975, top: 238 }), Object.assign({}, legendBase, { left: 974, top: 783 })],
  graphic: { elements: elements }
});
</script></body></html>
